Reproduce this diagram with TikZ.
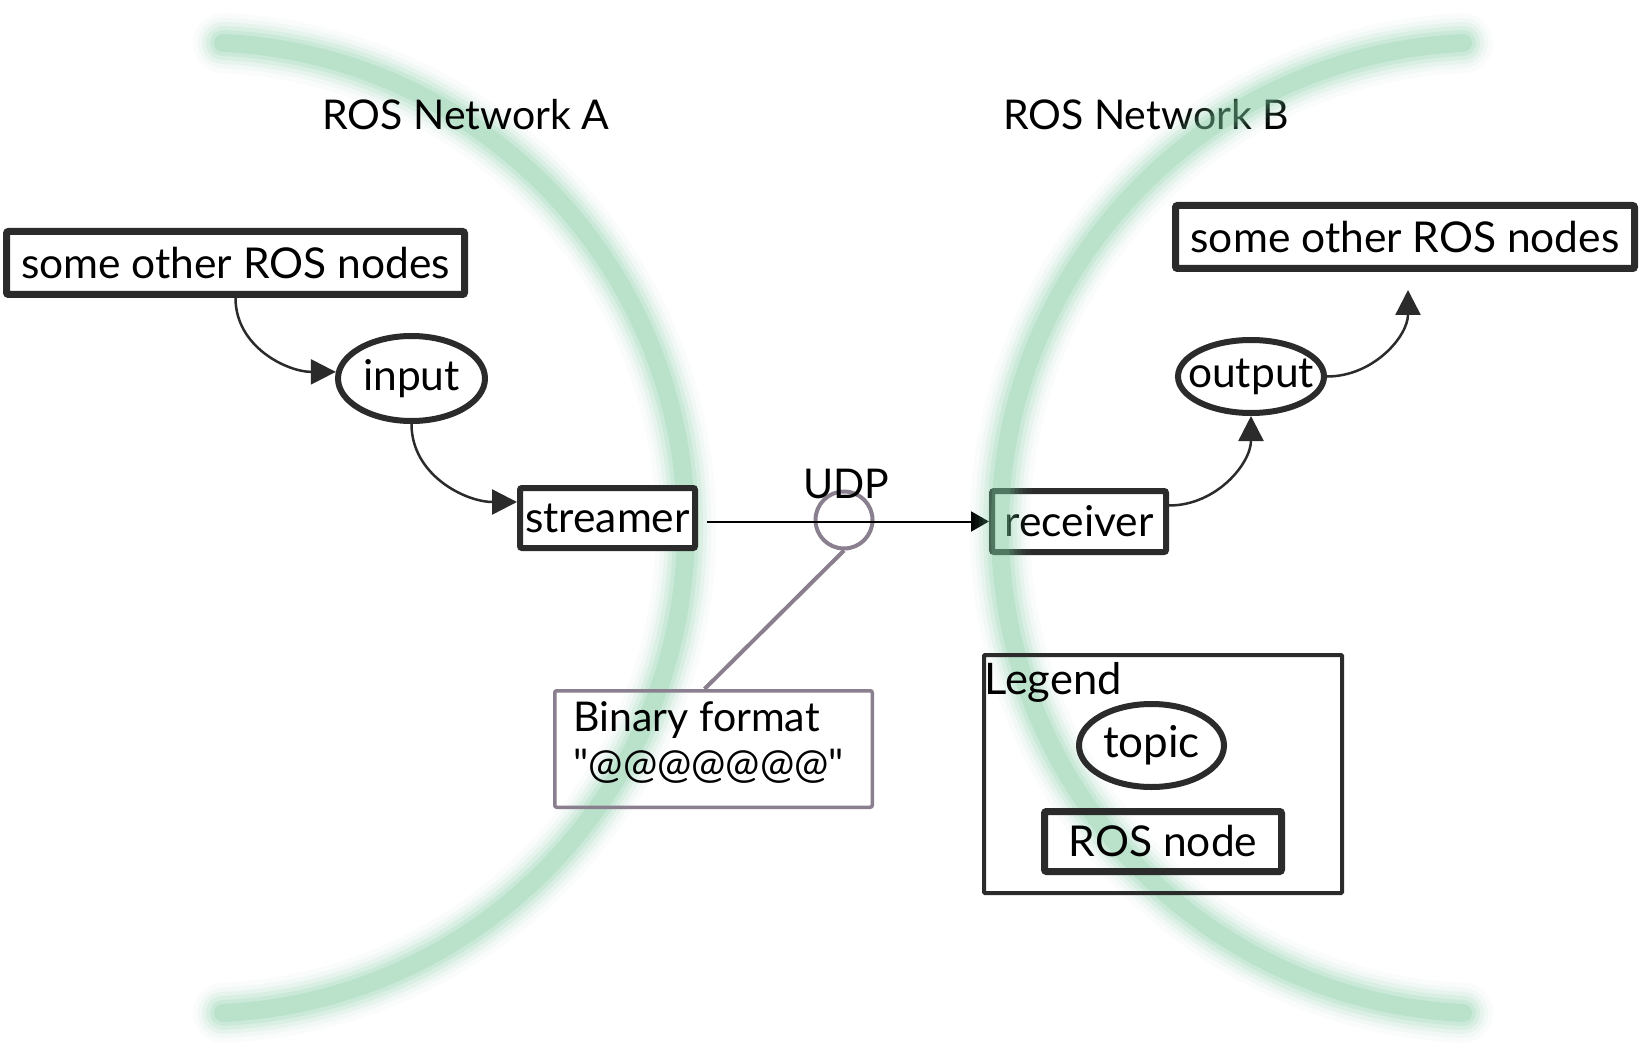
\documentclass[tikz,border=0pt]{standalone}
\usepackage{fontspec}
\setmainfont{Lato}
\newfontfamily\qfont{Lato}
\usetikzlibrary{arrows.meta,shapes.geometric,calc}
\definecolor{bord}{HTML}{2B2B2B}
\definecolor{callout}{HTML}{8A7F8E}
\definecolor{arcgreen}{RGB}{120,200,155}
\tikzset{
  bigfont/.style={font=\fontsize{41}{47}\selectfont},
  nodefont/.style={font=\fontsize{42.5}{48}\selectfont},
  lbl/.style={bigfont, inner sep=0pt, text=black},
  rosbox/.style={rectangle, draw=bord, line width=7pt, rounded corners=2pt, nodefont, inner sep=0pt, align=center},
  topicell/.style={ellipse, draw=bord, line width=6pt, nodefont, inner sep=0pt},
  flow/.style={draw=bord, line width=2.5pt, -{Triangle[length=25pt,width=25pt]}},
  udpline/.style={draw=black, line width=2pt, -{Triangle[length=18pt,width=20pt]}},
  calloutline/.style={draw=callout, line width=4pt},
}
\newcommand{\glowarc}[4]{%
  \foreach \w/\o in {60/0.04,50/0.06,42/0.08,34/0.11,26/0.15,18/0.2}{%
    \draw[arcgreen, line width=\w pt, opacity=\o, line cap=round] #1 arc[start angle=#2, end angle=#3, radius=#4];}}
\newcommand{\qt}{{\qfont"}}
\begin{document}
\begin{tikzpicture}[x=1pt,y=1pt]
\fill[white] (0,0) rectangle (1641,-1059);
\useasboundingbox (0,0) rectangle (1641,-1059);
% left network arc (behind)
\glowarc{(223,-43)}{87.35}{-87.35}{485.5pt}
% titles
\node[lbl] (titleA) at (466,-115) {ROS Network A};
\node[lbl] (titleB) at (1146,-115) {ROS Network B};
% network A
\node[rosbox, fill=white, minimum width=458, minimum height=63] (lbox) at (235.5,-263) {some other ROS nodes};
\node[topicell, fill=white, minimum width=147, minimum height=85] (input) at (411.5,-378.5) {\makebox[0pt]{input}};
\node[rosbox, line width=6pt, fill=white, minimum width=175, minimum height=60] (streamer) at (607.5,-518) {streamer};
% network B
\node[rosbox, line width=6pt, fill=white, minimum width=174, minimum height=61] (receiver) at (1079,-521.5) {receiver};
\node[topicell, fill=white, minimum width=146, minimum height=73] (output) at (1251,-376.5) {\makebox[0pt]{output}};
\node[rosbox, fill=white, minimum width=459, minimum height=63] (rbox) at (1405,-237) {some other ROS nodes};
% connectors
\draw[flow] (lbox.south) to[out=-90,in=180] (input.175);
\draw[flow] (input.south) to[out=-90,in=180] ([yshift=16pt]streamer.west);
\draw[flow] ([yshift=16pt]receiver.east) to[out=0,in=-90] (output.south);
\draw[flow] (output.east) to[out=0,in=-90] ([xshift=3pt,yshift=-18pt]rbox.south);
% UDP
\node[circle, draw=callout, line width=4pt, minimum size=57, inner sep=0pt] (udp) at (844,-520) {};
\draw[udpline, shorten <=9pt] (streamer.east |- receiver.west) -- (receiver.west);
\node[lbl] (udplabel) at (846,-484) {UDP};
\node[rectangle, draw=callout, line width=3.5pt, rounded corners=2pt, minimum width=317.5, minimum height=116.5,
      text height=40pt, text depth=40pt, inner sep=0pt, bigfont] (binary) at (713.5,-749)
      {\raisebox{0pt}{\parbox{280pt}{\raggedright Binary format\\\qt@@@@@@@\qt}}};
\draw[calloutline] (udp.south) -- ([xshift=-9pt]binary.north);
% network B arc (in front)
\glowarc{(1463,-43)}{92.65}{267.35}{485.5pt}
% legend
\node[rectangle, draw=bord, line width=4pt, rounded corners=1pt, minimum width=358, minimum height=238, inner sep=0pt] (legend) at (1163,-774) {};
\node[lbl, anchor=west, font=\fontsize{43.5}{50}\selectfont] (legendlabel) at (984,-682) {Legend};
\node[topicell, font=\fontsize{44}{50}\selectfont, minimum width=145, minimum height=83] (ltopic) at (1151.5,-745.5) {\makebox[0pt]{topic}};
\node[rosbox, minimum width=237, minimum height=60] (lnode) at (1163,-841.5) {ROS node};
\end{tikzpicture}
\end{document}
